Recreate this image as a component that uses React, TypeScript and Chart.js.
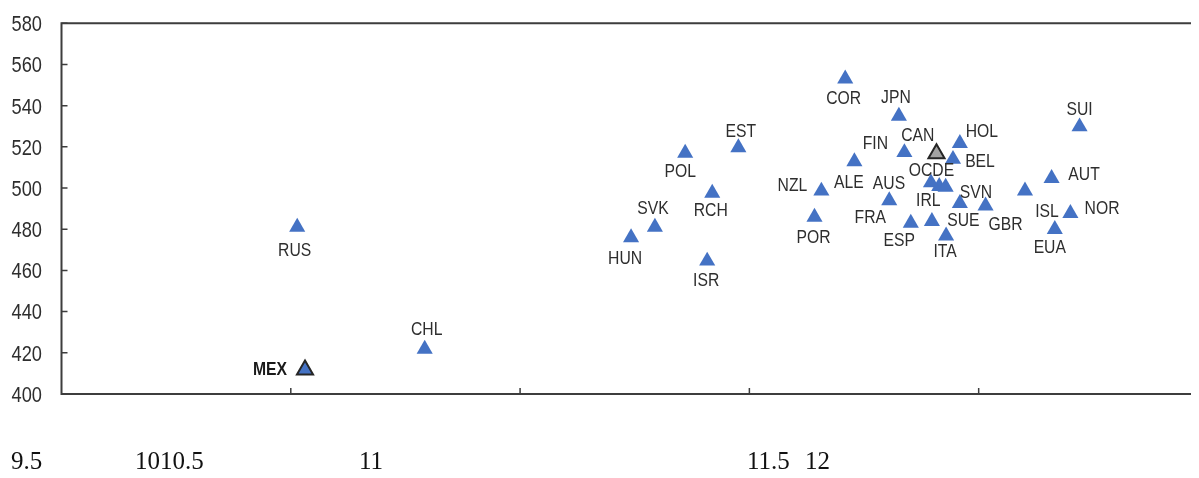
import { useEffect, useRef } from "react";
import { Chart, registerables } from "chart.js";

Chart.register(...registerables);

// ---- Data ----
const countries = [
  "RUS", "MEX", "CHL", "HUN", "SVK", "POL", "EST", "RCH", "ISR", "NZL", "POR",
  "ALE", "COR", "JPN", "FIN", "OCDE", "CAN", "AUS", "IRL", "FRA", "HOL", "BEL",
  "SVN", "GBR", "ESP", "SUE", "ITA", "SUI", "AUT", "ISL", "NOR", "EUA",
];
const xValues = [
  10.014, 10.031, 10.292, 10.742, 10.794, 10.86, 10.976, 10.919, 10.908, 11.157, 11.142,
  11.229, 11.209, 11.326, 11.338, 11.408, 11.414, 11.428, 11.396, 11.305, 11.459, 11.444,
  11.459, 11.515, 11.352, 11.398, 11.429, 11.72, 11.659, 11.601, 11.7, 11.666,
];
const yValues = [
  481.1, 411.7, 421.8, 476.0, 481.1, 517.0, 519.7, 497.6, 464.6, 498.6, 485.9,
  512.9, 553.0, 535.0, 517.3, 516.7, 500.8, 500.5, 502.6, 493.9, 521.7, 514.0,
  492.6, 491.4, 483.0, 483.8, 476.8, 529.8, 504.7, 498.7, 487.7, 480.0,
];
const highlighted = ["MEX"];
const averageName = "OCDE";

// label placement (px offset from the marker to the label centre)
const labelDx = [
  -2.5, -35, 2, -6, -2, -5, 2.5, -1.5, -1, -29, -1,
  -5.5, -1.5, -3, -29, -5, -21.5, -56.7, -2.7, -19, 22, 27,
  16, 20, -11.5, 31.5, -1, 0, 32.5, 22, 31.7, -5,
];
const labelDy = [
  22, -1.5, -21, 19.5, -20, 17.5, -17.5, 16, 18, -7, 19.5,
  20, 18, -20, -10, 16, -52.5, -4.8, 16.3, 15.6, -13, 1.5,
  -12, 17.7, 16.5, -2.3, 15, -18.4, -5, 19.3, -6, 17.5,
];

const yTickValues = [400, 420, 440, 460, 480, 500, 520, 540, 560, 580];
const xTickValues = [10, 10.5, 11, 11.5];
const xTickTexts = ["9.5", "1010.5", "11", "11.5", "12"];
const xTickTextLeft = [3, 127, 351, 739, 797];

const X_MIN = 9.5;
const X_MAX = 11.963;
const Y_MIN = 400;
const Y_MAX = 580;

const BLUE = "#4472c4";
const AXIS = "#3d3d3d";
const TEXT = "#2e2e2e";

const decorPlugin = {
  id: "decor",
  beforeDatasetsDraw(chart: any) {
    const ctx = chart.ctx;
    const { left, right, top, bottom } = chart.chartArea;
    const ys = chart.scales.y;
    const xs = chart.scales.x;
    ctx.save();
    ctx.strokeStyle = AXIS;
    ctx.lineWidth = 2;
    ctx.beginPath();
    ctx.moveTo(right + 5, top);
    ctx.lineTo(left, top);
    ctx.lineTo(left, bottom);
    ctx.lineTo(right + 5, bottom);
    ctx.stroke();
    ctx.lineWidth = 1.5;
    ctx.beginPath();
    yTickValues.forEach((v) => {
      const y = ys.getPixelForValue(v);
      ctx.moveTo(left, y);
      ctx.lineTo(left + 6, y);
    });
    xTickValues.forEach((v) => {
      const x = xs.getPixelForValue(v);
      ctx.moveTo(x, bottom);
      ctx.lineTo(x, bottom - 6);
    });
    ctx.stroke();

    // y tick labels (condensed sans)
    ctx.fillStyle = TEXT;
    ctx.font = '22px "Liberation Sans", Arial, sans-serif';
    ctx.textAlign = "right";
    ctx.textBaseline = "alphabetic";
    yTickValues.forEach((v) => {
      const y = ys.getPixelForValue(v);
      ctx.save();
      ctx.translate(left - 19.5, y + 0.358 * 22);
      ctx.scale(0.83, 1);
      ctx.fillText(String(v), 0, 0);
      ctx.restore();
    });

    // x tick texts (serif, as in the reference)
    ctx.fillStyle = "#111";
    ctx.font = '25px "Liberation Serif", "Times New Roman", serif';
    ctx.textAlign = "left";
    xTickTexts.forEach((t, i) => {
      ctx.fillText(t, xTickTextLeft[i], chart.height - 1.5);
    });
    ctx.restore();
  },
  afterDatasetsDraw(chart: any) {
    const ctx = chart.ctx;
    const meta = chart.getDatasetMeta(0);
    ctx.save();
    ctx.textAlign = "center";
    ctx.textBaseline = "alphabetic";
    const fs = 18.5;
    meta.data.forEach((pt: any, i: number) => {
      const name = countries[i];
      const bold = highlighted.includes(name);
      ctx.font = (bold ? "bold " : "") + fs + 'px "Liberation Sans", Arial, sans-serif';
      ctx.fillStyle = bold ? "#1a1a1a" : TEXT;
      ctx.save();
      ctx.translate(pt.x + labelDx[i], pt.y + labelDy[i] + 0.358 * fs);
      ctx.scale(0.85, 1);
      ctx.fillText(name, 0, 0);
      ctx.restore();
    });
    ctx.restore();
  },
};

export default function App() {
  const ref = useRef<HTMLCanvasElement | null>(null);

  useEffect(() => {
    if (!ref.current) return;
    const data = countries.map((_, i) => ({ x: xValues[i], y: yValues[i] }));
    const bg = countries.map((c) => (c === averageName ? "#a3a3a3" : BLUE));
    const bc = countries.map((c) =>
      c === averageName || highlighted.includes(c) ? "#262626" : BLUE
    );
    const bw = countries.map((c) =>
      c === averageName || highlighted.includes(c) ? 2 : 0
    );
    const chart = new Chart(ref.current, {
      type: "scatter",
      data: {
        datasets: [
          {
            data,
            pointStyle: "triangle",
            pointRadius: 9.3,
            pointHoverRadius: 9.3,
            pointBackgroundColor: bg,
            pointBorderColor: bc,
            pointBorderWidth: bw,
          },
        ],
      },
      options: {
        animation: false,
        responsive: false,
        devicePixelRatio: 1,
        events: [],
        layout: {
          autoPadding: false,
          padding: { left: 53.5, top: 15.3, right: 0, bottom: 76 },
        },
        plugins: {
          legend: { display: false },
          tooltip: { enabled: false },
        },
        scales: {
          x: { type: "linear", min: X_MIN, max: X_MAX, display: false },
          y: { type: "linear", min: Y_MIN, max: Y_MAX, display: false },
        },
      },
      plugins: [decorPlugin],
    });
    return () => chart.destroy();
  }, []);

  return (
    <div style={{ width: 1183, height: 462 }}>
      <canvas ref={ref} width={1183} height={462} style={{ display: "block" }} />
    </div>
  );
}
